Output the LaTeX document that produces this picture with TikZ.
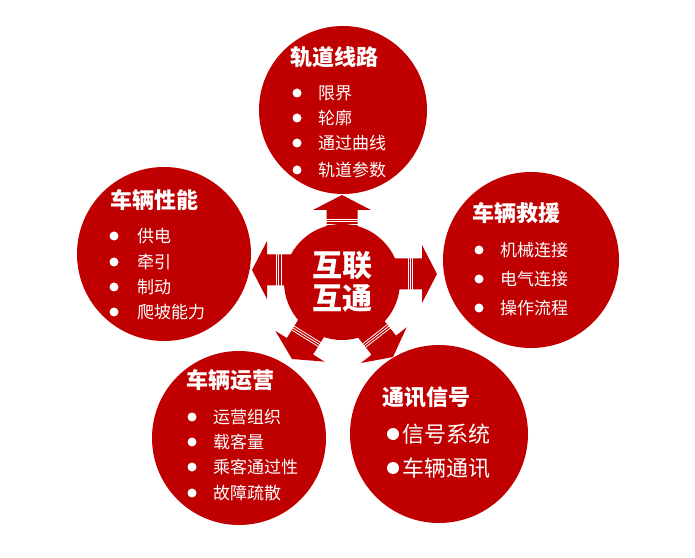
\documentclass[tikz,border=0pt]{standalone}
\usepackage{fontspec}
\setmainfont{Noto Sans CJK SC}
\usetikzlibrary{calc}
\definecolor{brick}{HTML}{C00000}
\tikzset{
  disc/.style={circle, fill=brick, inner sep=0pt},
  hubdisc/.style={circle, fill=brick, inner sep=0pt, minimum size=116, text=white, align=center,
    font=\fontsize{30}{33}\selectfont\bfseries},
  ttl/.style={anchor=west, inner sep=0pt, text=white, font=\fontsize{22}{26}\selectfont\bfseries},
  itm/.style={anchor=west, inner sep=0pt, text=white, font=\fontsize{17}{20}\selectfont},
  itmbig/.style={anchor=west, inner sep=0pt, text=white, font=\fontsize{22}{26}\selectfont},
  stripearrow/.pic={
    \fill[brick] (0,0) -- (-15,29) -- (-15,15.5) -- (-48,15.5) -- (-48,-15.5)
      -- (-15,-15.5) -- (-15,-29) -- cycle;
    \foreach \d in {24.5,26.8,29.1}
      \draw[white, line width=0.8] (-\d,15.6) -- (-\d,-15.6);
  }
}
\newcommand\mybul[3]{\fill[white] ($(#1.west)+(#2,0)$) circle (#3);}
\begin{document}
\begin{tikzpicture}[x=1pt,y=1pt]
\useasboundingbox (0,0) rectangle (695,557);
% outer discs
\node[disc, minimum size=168] (track) at (343,447) {};
\node[disc, minimum size=174] (perf)  at (164,303) {};
\node[disc, minimum size=176] (rescue) at (531,297) {};
\node[disc, minimum size=174] (oper)  at (239,119) {};
\node[disc, minimum size=178] (sig)   at (439,123) {};
% hub position
\coordinate (hc) at (342,275);
% arrows
\pic[rotate=90]  at ($(hc)+(0,87)$)    {stripearrow};
\pic[rotate=180] at ($(hc)+(-90,12)$)  {stripearrow};
\pic[rotate=0]   at ($(hc)+(95,8)$)    {stripearrow};
\pic[rotate=238] at ($(hc)+(-50,-77)$) {stripearrow};
\pic[rotate=308] at ($(hc)+(51,-75)$)  {stripearrow};
% hub
\node[hubdisc] (hub) at (hc) {互联\\互通};
% top
\node[ttl] (trackT) at (290,500) {轨道线路};
\node[itm] (tr1) at (318,464) {限界};
\node[itm] (tr2) at (318,439) {轮廓};
\node[itm] (tr3) at (318,414) {通过曲线};
\node[itm] (tr4) at (318,387) {轨道参数};
\foreach \n in {tr1,tr2,tr3,tr4} {\mybul{\n}{-21}{4.5}}
% left
\node[ttl] (perfT) at (110,357) {车辆性能};
\node[itm] (pf1) at (137,321) {供电};
\node[itm] (pf2) at (137,295) {牵引};
\node[itm] (pf3) at (137,270) {制动};
\node[itm] (pf4) at (137,245) {爬坡能力};
\foreach \n in {pf1,pf2,pf3,pf4} {\mybul{\n}{-23}{4.5}}
% right
\node[ttl] (rescueT) at (472,344) {车辆救援};
\node[itm] (rs1) at (500,307) {机械连接};
\node[itm] (rs2) at (500,278) {电气连接};
\node[itm] (rs3) at (500,249) {操作流程};
\foreach \n in {rs1,rs2,rs3} {\mybul{\n}{-21}{4.5}}
% bottom left
\node[ttl] (operT) at (186,177) {车辆运营};
\node[itm] (op1) at (213,140) {运营组织};
\node[itm] (op2) at (213,115) {载客量};
\node[itm] (op3) at (213,90) {乘客通过性};
\node[itm] (op4) at (213,64) {故障疏散};
\foreach \n in {op1,op2,op3,op4} {\mybul{\n}{-21}{4.5}}
% bottom right
\node[ttl] (sigT) at (382,160) {通讯信号};
\node[itmbig] (sg1) at (402,123) {信号系统};
\node[itmbig] (sg2) at (402,89) {车辆通讯};
\foreach \n in {sg1,sg2} {\mybul{\n}{-9}{6}}
\end{tikzpicture}
\end{document}
